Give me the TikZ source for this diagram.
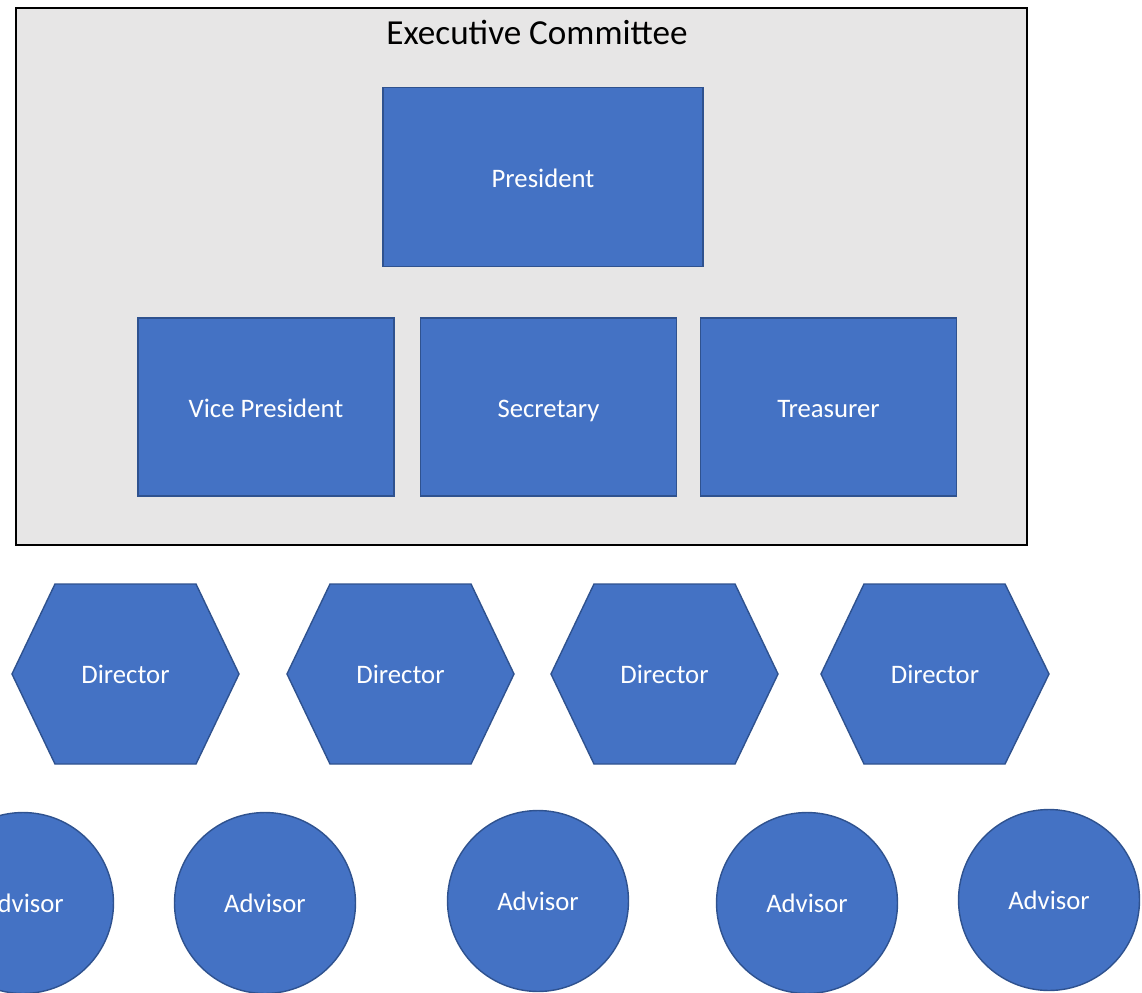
\documentclass[tikz,border=0pt]{standalone}
\usepackage{fontspec}
\setmainfont{Carlito}
\usepackage{tikz}

\definecolor{officeblue}{HTML}{4472C4}
\definecolor{officeline}{HTML}{2F528F}
\definecolor{panelgray}{HTML}{E7E6E6}

\tikzset{
	panel/.style={draw=black, line width=0.8pt, fill=panelgray, inner sep=0pt},
	heading/.style={text=black, font=\fontsize{20}{24}\selectfont},
	officer/.style={draw=officeline, line width=0.8pt, fill=officeblue, text=white,
		font=\fontsize{15.2}{18}\selectfont, text height=12.5pt, text depth=0pt,
		minimum width=5.12cm, minimum height=3.56cm},
	hexbox/.style={draw=officeline, line width=0.8pt, fill=officeblue},
	hexlabel/.style={text=white, font=\fontsize{15.2}{18}\selectfont},
	advisor/.style={circle, draw=officeline, line width=0.8pt, fill=officeblue, text=white,
		font=\fontsize{15.2}{18}\selectfont, minimum size=3.62cm, inner sep=0pt}
}

\begin{document}
\begin{tikzpicture}[x=0.02cm, y=-0.02cm]
		
		\useasboundingbox (0,0) rectangle (1142,993);
		\clip (0,0) rectangle (1142,993);
		
		% Committee panel
		\node[panel, minimum width=20.22cm, minimum height=10.74cm] (exec) at (521.5,276.5) {};
		\node[heading] (title) at (537,32) {Executive Committee};
		
		% Officers
		\node[officer, minimum width=6.4cm, minimum height=3.58cm] (pres) at (543,177) {President};
		\node[officer] (vp) at (266,407) {Vice President};
		\node[officer] (sec) at (548.5,407) {Secretary};
		\node[officer] (treas) at (828.5,407) {Treasurer};
		
		% Directors
		\draw[hexbox] (12,674) -- (55,584) -- (196,584) -- (239,674) -- (196,764) -- (55,764) -- cycle;
		\draw[hexbox] (287,674) -- (330,584) -- (471,584) -- (514,674) -- (471,764) -- (330,764) -- cycle;
		\draw[hexbox] (551,674) -- (594,584) -- (735,584) -- (778,674) -- (735,764) -- (594,764) -- cycle;
		\draw[hexbox] (821,674) -- (864,584) -- (1005,584) -- (1049,674) -- (1005,764) -- (864,764) -- cycle;
		
		\node[hexlabel] (dir1) at (125.5,674) {Director};
		\node[hexlabel] (dir2) at (400.5,674) {Director};
		\node[hexlabel] (dir3) at (664.5,674) {Director};
		\node[hexlabel] (dir4) at (935,674) {Director};
		
		% Advisors
		\node[advisor] (adv1) at (23,903) {Advisor};
		\node[advisor] (adv2) at (265,903) {Advisor};
		\node[advisor] (adv3) at (538,901) {Advisor};
		\node[advisor] (adv4) at (807,903) {Advisor};
		\node[advisor] (adv5) at (1049,900) {Advisor};
		
		\end{tikzpicture}
\end{document}
